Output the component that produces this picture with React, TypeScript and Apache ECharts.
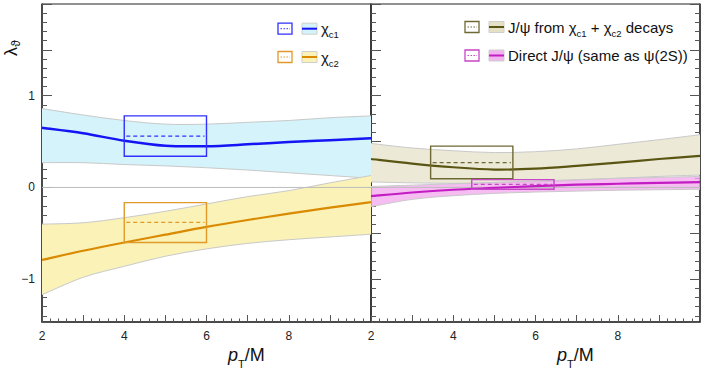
import React, { useEffect, useRef } from 'react';
import * as echarts from 'echarts';

const pT = [2, 3, 4, 5, 6, 7, 8, 9, 10];

const chic1Central = [0.65, 0.59, 0.51, 0.455, 0.45, 0.47, 0.495, 0.515, 0.535];
const chic1Upper = [0.86, 0.79, 0.73, 0.69, 0.69, 0.71, 0.73, 0.76, 0.78];
const chic1Lower = [0.27, 0.27, 0.25, 0.235, 0.215, 0.19, 0.16, 0.13, 0.1];

const chic2Central = [-0.79, -0.69, -0.6, -0.515, -0.43, -0.355, -0.285, -0.22, -0.16];
const chic2Upper = [-0.4, -0.385, -0.33, -0.26, -0.18, -0.1, -0.035, 0.05, 0.13];
const chic2Lower = [-1.17, -0.98, -0.86, -0.75, -0.67, -0.61, -0.57, -0.54, -0.51];

const feedCentral = [0.31, 0.26, 0.22, 0.195, 0.205, 0.235, 0.27, 0.31, 0.345];
const feedUpper = [0.48, 0.43, 0.4, 0.38, 0.39, 0.42, 0.47, 0.52, 0.575];
const feedLower = [0.06, 0.05, 0.045, 0.05, 0.06, 0.08, 0.1, 0.12, 0.135];

const directCentral = [-0.095, -0.055, -0.025, -0.005, 0.015, 0.03, 0.04, 0.05, 0.057];
const directUpper = [0.01, 0.025, 0.04, 0.055, 0.07, 0.085, 0.1, 0.11, 0.12];
const directLower = [-0.21, -0.13, -0.09, -0.065, -0.05, -0.04, -0.03, -0.025, -0.02];

// boxes: [pT min, pT max, lambda min, lambda max, lambda central]
const chic1Box = [4, 6, 0.34, 0.78, 0.56];
const chic2Box = [4, 6, -0.6, -0.165, -0.38];
const feedBox = [3.45, 5.45, 0.095, 0.45, 0.27];
const directBox = [4.45, 6.45, -0.02, 0.085, 0.033];

const yLabelValues = [-1, 0, 1];
const xLabelValues = [2, 4, 6, 8];
const yMin = -1.467;
const yMax = 2;

const FONT = "'Liberation Sans', Arial, Helvetica, sans-serif";

const C = {
  blue: '#1414f5', blueBand: '#d4f3fa', blueBox: '#3030ff',
  orange: '#d98a00', orangeBand: '#fbf2b7', orangeBox: '#e09a2a',
  olive: '#5a5512', oliveBand: '#ece9d7', oliveBox: '#6e6834',
  mag: '#c21cc2', magBand: 'rgba(242,170,237,0.78)', magBox: '#c846c8',
  edge: '#c9c9c9',
};

function smoothPath(pts: number[][], start: string) {
  let d = `${start}${pts[0][0]},${pts[0][1]}`;
  const k = 1 / 6;
  for (let i = 0; i < pts.length - 1; i++) {
    const p0 = pts[i - 1] || pts[i];
    const p1 = pts[i];
    const p2 = pts[i + 1];
    const p3 = pts[i + 2] || p2;
    const c1x = p1[0] + (p2[0] - p0[0]) * k;
    const c1y = p1[1] + (p2[1] - p0[1]) * k;
    const c2x = p2[0] - (p3[0] - p1[0]) * k;
    const c2y = p2[1] - (p3[1] - p1[1]) * k;
    d += ` C${c1x},${c1y} ${c2x},${c2y} ${p2[0]},${p2[1]}`;
  }
  return d;
}

function band(gi: number, lower: number[], upper: number[], fill: string) {
  return {
    type: 'custom', xAxisIndex: gi, yAxisIndex: gi === 0 ? 0 : 1, silent: true, z: 1,
    data: pT.map((x, i) => [x, lower[i], upper[i]]),
    encode: { x: 0, y: [1, 2] },
    renderItem: (params: any, api: any) => {
      if (params.dataIndex !== 0) return null;
      const up = pT.map((x, i) => api.coord([x, upper[i]]));
      const lo = pT.map((x, i) => api.coord([x, lower[i]]));
      const loRev = lo.slice().reverse();
      const area = smoothPath(up, 'M') + ' L' + loRev[0][0] + ',' + loRev[0][1] + smoothPath(loRev, ' L').replace(/^ L[^ ]+/, '') + ' Z';
      return {
        type: 'group',
        children: [
          { type: 'path', shape: { pathData: area }, style: { fill, stroke: 'none' } },
          { type: 'path', shape: { pathData: smoothPath(up, 'M') }, style: { fill: 'none', stroke: C.edge, lineWidth: 1 } },
          { type: 'path', shape: { pathData: smoothPath(lo, 'M') }, style: { fill: 'none', stroke: C.edge, lineWidth: 1 } },
        ],
      };
    },
  };
}

function centralLine(gi: number, vals: number[], color: string, width: number) {
  return {
    type: 'custom', xAxisIndex: gi, yAxisIndex: gi === 0 ? 0 : 1, silent: true, z: 3,
    data: pT.map((x, i) => [x, vals[i]]),
    encode: { x: 0, y: 1 },
    renderItem: (params: any, api: any) => {
      if (params.dataIndex !== 0) return null;
      const pts = pT.map((x, i) => api.coord([x, vals[i]]));
      return { type: 'path', shape: { pathData: smoothPath(pts, 'M') }, style: { fill: 'none', stroke: color, lineWidth: width } };
    },
  };
}

function zeroLine(gi: number) {
  return {
    type: 'line', xAxisIndex: gi, yAxisIndex: gi === 0 ? 0 : 1, symbol: 'none', silent: true, z: 2,
    data: [[pT[0], 0], [pT[pT.length - 1], 0]], lineStyle: { color: '#bdbdbd', width: 1 },
  };
}

function box(gi: number, b: number[], color: string) {
  return {
    type: 'custom', xAxisIndex: gi, yAxisIndex: gi === 0 ? 0 : 1, silent: true, z: 4,
    data: [b],
    encode: { x: [0, 1], y: [2, 3, 4] },
    renderItem: (params: any, api: any) => {
      const p0 = api.coord([api.value(0), api.value(3)]);
      const p1 = api.coord([api.value(1), api.value(2)]);
      const m0 = api.coord([api.value(0), api.value(4)]);
      const m1 = api.coord([api.value(1), api.value(4)]);
      return {
        type: 'group',
        children: [
          { type: 'rect', shape: { x: p0[0], y: p0[1], width: p1[0] - p0[0], height: p1[1] - p0[1] }, style: { fill: 'none', stroke: color, lineWidth: 1.4 } },
          { type: 'line', shape: { x1: m0[0] + 2, y1: m0[1], x2: m1[0] - 2, y2: m1[1] }, style: { stroke: color, lineWidth: 1.2, lineDash: [4, 3] } },
        ],
      };
    },
  };
}

function xAxis(gi: number) {
  return {
    type: 'value', gridIndex: gi, min: 2, max: 10, interval: 1, position: 'bottom',
    axisLine: { onZero: false, lineStyle: { color: '#333', width: 1.5 } },
    axisTick: { inside: true, length: 7, lineStyle: { color: '#555', width: 1 } },
    minorTick: { show: true, splitNumber: 5, length: 3.5, lineStyle: { color: '#555', width: 1 } },
    splitLine: { show: false },
    axisLabel: {
      margin: 8, fontSize: 12, color: '#222', fontFamily: FONT,
      formatter: (v: number) => (xLabelValues.includes(v) ? String(v) : ''),
    },
  };
}

function yAxis(gi: number, pos: string, labels: boolean) {
  return {
    type: 'value', gridIndex: gi, min: yMin, max: yMax, position: pos,
    axisLine: { show: true, onZero: false, lineStyle: { color: '#333', width: 1.5 } },
    axisTick: { show: true, inside: true, length: 10, lineStyle: { color: '#555', width: 1 } },
    minorTick: { show: true, splitNumber: 5, length: 5, lineStyle: { color: '#555', width: 1 } },
    splitLine: { show: false },
    axisLabel: {
      show: labels, margin: 7, fontSize: 12, color: '#222', fontFamily: FONT,
      formatter: (v: number) => (yLabelValues.includes(v) ? (v < 0 ? '\u2212' + Math.abs(v) : String(v)) : ''),
    },
  };
}

function legendRow(x: number, y: number, color: string, boxColor: string, fill: string, text: string) {
  return [
    { type: 'rect', shape: { x: x, y: y - 5.5, width: 14, height: 11 }, style: { fill: '#fff', stroke: boxColor, lineWidth: 1.3 } },
    { type: 'line', shape: { x1: x + 2.5, y1: y, x2: x + 12, y2: y }, style: { stroke: boxColor, lineWidth: 1, lineDash: [1.5, 1.5] } },
    { type: 'rect', shape: { x: x + 24, y: y - 5.5, width: 15, height: 11 }, style: { fill: fill, stroke: '#cfcfcf', lineWidth: 1 } },
    { type: 'line', shape: { x1: x + 24, y1: y, x2: x + 39, y2: y }, style: { stroke: color, lineWidth: 2 } },
    {
      type: 'text', x: x + 43, y: y,
      style: {
        text, fill: '#111', verticalAlign: 'middle', align: 'left',
        rich: {
          m: { fontSize: 15, fontFamily: FONT, lineHeight: 18, fill: '#111' },
          s: { fontSize: 9.5, fontFamily: FONT, lineHeight: 10, padding: [12, 0, 0, 0], fill: '#111' },
        },
      },
    },
  ];
}

function ptTitle(x: number) {
  return {
    type: 'text', x, y: 355,
    style: {
      text: '{p|p}{s|T}{m|/M}', verticalAlign: 'middle', align: 'left',
      rich: {
        p: { fontSize: 18, fontStyle: 'italic', fontFamily: FONT, lineHeight: 20, fill: '#111' },
        s: { fontSize: 11, fontFamily: FONT, lineHeight: 10, padding: [18, 0, 0, 0], fill: '#111' },
        m: { fontSize: 18, fontFamily: FONT, lineHeight: 20, fill: '#111' },
      },
    },
  };
}

export default function App() {
  const ref = useRef<HTMLDivElement>(null);
  useEffect(() => {
    if (!ref.current) return;
    const chart = echarts.init(ref.current, undefined, { renderer: 'svg' });
    const option: any = {
      animation: false,
      backgroundColor: '#fff',
      textStyle: { fontFamily: FONT },
      grid: [
        { left: 42, top: 4, width: 329, height: 318, show: true, borderColor: '#222', borderWidth: 1, backgroundColor: 'transparent' },
        { left: 371, top: 4, width: 329, height: 318, show: true, borderColor: '#222', borderWidth: 1, backgroundColor: 'transparent' },
      ],
      xAxis: [xAxis(0), xAxis(1)],
      yAxis: [yAxis(0, 'left', true), yAxis(1, 'left', false), yAxis(1, 'right', false)],
      series: [
        band(0, chic1Lower, chic1Upper, C.blueBand),
        band(0, chic2Lower, chic2Upper, C.orangeBand),
        zeroLine(0),
        centralLine(0, chic1Central, C.blue, 2.5),
        centralLine(0, chic2Central, C.orange, 2.2),
        box(0, chic1Box, C.blueBox),
        box(0, chic2Box, C.orangeBox),
        band(1, feedLower, feedUpper, C.oliveBand),
        band(1, directLower, directUpper, C.magBand),
        zeroLine(1),
        centralLine(1, feedCentral, C.olive, 2.2),
        centralLine(1, directCentral, C.mag, 2.2),
        box(1, feedBox, C.oliveBox),
        box(1, directBox, C.magBox),
      ],
      graphic: [
        ...legendRow(278, 28.7, C.blue, C.blueBox, C.blueBand, '{m|\u03c7}{s|c1}'),
        ...legendRow(278, 57, C.orange, C.orangeBox, C.orangeBand, '{m|\u03c7}{s|c2}'),
        ...legendRow(465, 27, C.olive, C.oliveBox, '#e4e1c6', '{m|J/\u03c8 from \u03c7}{s|c1}{m| + \u03c7}{s|c2}{m| decays}'),
        ...legendRow(465, 55.5, C.mag, C.magBox, '#f2b4ee', '{m|Direct J/\u03c8 (same as \u03c8(2S))}'),
        ptTitle(228),
        ptTitle(557),
        {
          type: 'group', x: 12, y: 50, rotation: Math.PI / 2,
          children: [
            { type: 'text', x: -1.5, y: -1, style: { text: '\u03bb', fontSize: 18, fontFamily: FONT, fill: '#111', align: 'center', verticalAlign: 'middle' } },
            { type: 'text', x: 6.5, y: 4, style: { text: '\u03d1', fontSize: 12, fontFamily: FONT, fill: '#111', align: 'center', verticalAlign: 'middle' } },
          ],
        },
      ],
    };
    chart.setOption(option);
    return () => chart.dispose();
  }, []);
  return <div ref={ref} style={{ position: 'fixed', left: 0, top: 0, width: 705, height: 370, background: '#fff' }} />;
}
